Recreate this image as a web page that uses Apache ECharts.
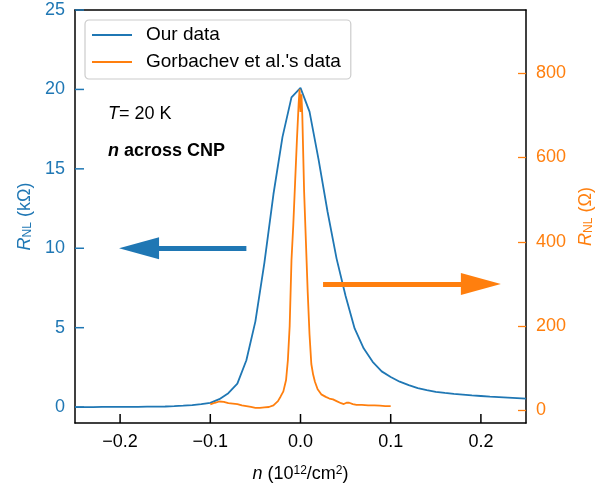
<!DOCTYPE html>
<html>
<head>
<meta charset="utf-8">
<script src="https://cdn.jsdelivr.net/npm/echarts@6/dist/echarts.min.js"></script>
<style>html,body{margin:0;padding:0;background:#fff}#c{width:596px;height:488px}</style>
</head>
<body>
<div id="c"></div>
<script>
// ---- data ----
const ourN = [-0.25,-0.24,-0.23,-0.22,-0.21,-0.20,-0.19,-0.18,-0.17,-0.16,-0.15,-0.14,-0.13,-0.12,-0.11,-0.10,-0.09,-0.08,-0.07,-0.06,-0.05,-0.04,-0.03,-0.02,-0.01,0.00,0.01,0.02,0.03,0.04,0.05,0.06,0.07,0.08,0.09,0.10,0.11,0.12,0.13,0.14,0.15,0.16,0.17,0.18,0.19,0.20,0.21,0.22,0.23,0.24,0.25];
const ourR = [0.00,0.00,0.00,0.01,0.01,0.01,0.02,0.02,0.03,0.03,0.04,0.06,0.09,0.13,0.19,0.27,0.50,0.88,1.48,2.95,5.4,9.1,13.4,17.0,19.5,20.1,18.6,15.6,12.3,9.35,7.0,4.95,3.7,2.85,2.25,1.9,1.6,1.38,1.2,1.07,0.96,0.89,0.83,0.79,0.74,0.70,0.66,0.63,0.60,0.57,0.54];
const gorbN = [-0.100,-0.095,-0.090,-0.085,-0.080,-0.075,-0.070,-0.065,-0.060,-0.055,-0.050,-0.045,-0.040,-0.035,-0.030,-0.025,-0.022,-0.019,-0.016,-0.014,-0.012,-0.010,-0.008,-0.006,-0.004,-0.002,-0.001,0.000,0.001,0.002,0.004,0.006,0.008,0.010,0.012,0.014,0.016,0.019,0.023,0.028,0.032,0.036,0.040,0.045,0.048,0.051,0.054,0.058,0.062,0.068,0.075,0.082,0.088,0.094,0.100];
const gorbR = [14,18,21,20,17,16,15,12,10,8,6,6,7,8,12,22,33,45,72,119,200,356,440,540,640,730,762,708,750,700,520,400,280,180,110,85,68,50,38,32,28,26,22,17,15,18,18,15,13,13,12,12,11,10,10];
// tick labels
const xTicks = [-0.2,-0.1,0.0,0.1,0.2];
const leftTicks = [0,5,10,15,20,25];
const rightTicks = [0,200,400,600,800];
// arrow annotations (data coords): [from x, to x, y]
const blueArrow = [-0.06, -0.179, 10];
const orangeArrow = [0.025, 0.200, 300];

const BLUE = '#1f77b4', ORANGE = '#ff7f0e';
const FONT = 'Liberation Sans';
const X_MIN = -0.25, Y_MIN = -1;

const chart = echarts.init(document.getElementById('c'), null, {renderer:'canvas'});
const fmtX = v => (v < 0 ? '\u2212' : '') + Math.abs(v).toFixed(1);

// inward tick marks drawn through the axes' own scales
function tickSeries(values, horizontal, color) {
  return {
    type: 'custom', name: horizontal ? 'xticks' : 'yticks',
    xAxisIndex: 0, yAxisIndex: 0, silent: true, z: 10, clip: false,
    data: values.map(v => horizontal ? [v, Y_MIN] : [X_MIN, v]),
    renderItem: (params, api) => {
      const p = api.coord([api.value(0), api.value(1)]);
      return {
        type: 'line',
        shape: horizontal ? {x1: p[0], y1: p[1], x2: p[0], y2: p[1] - 9}
                          : {x1: p[0], y1: p[1], x2: p[0] + 9, y2: p[1]},
        style: {stroke: color, lineWidth: 1.5}
      };
    }
  };
}

chart.setOption({
  animation: false,
  textStyle: {fontFamily: FONT},
  grid: {left: 75, right: 70, top: 10, bottom: 65, outerBoundsMode: 'none', containLabel: false, show: false},
  legend: {
    orient: 'vertical', left: 85, top: 20,
    data: ['Our data', "Gorbachev et al.'s data"],
    icon: 'rect',
    itemWidth: 40, itemHeight: 2, itemGap: 7,
    padding: [5, 10, 7, 7],
    backgroundColor: 'rgba(255,255,255,0.85)',
    borderColor: '#cccccc', borderWidth: 1.2, borderRadius: 4,
    textStyle: {fontSize: 19, color: '#000', fontFamily: FONT, padding: [0,0,0,9], lineHeight: 20}
  },
  xAxis: [{
    type: 'value', min: X_MIN, max: 0.25, position: 'bottom',
    name: '{i|n} (10{sup|12}/cm{sup|2})',
    nameLocation: 'middle', nameGap: 42,
    nameTextStyle: {fontSize: 18, color: '#000', fontFamily: FONT,
      rich: {i: {fontStyle: 'italic', fontSize: 18, fontFamily: FONT},
             sup: {fontSize: 12, verticalAlign: 'top', fontFamily: FONT}}},
    axisLine: {show: true, onZero: false, lineStyle: {color: '#000', width: 1.5}},
    splitLine: {show: false},
    axisTick: {show: false},
    axisLabel: {fontSize: 18, color: '#000', margin: 10, customValues: xTicks, formatter: fmtX}
  }, {
    type: 'value', min: X_MIN, max: 0.25, position: 'top',
    axisLine: {show: true, onZero: false, lineStyle: {color: '#000', width: 1.5}},
    axisTick: {show: false}, axisLabel: {show: false}, splitLine: {show: false}
  }],
  yAxis: [{
    type: 'value', min: Y_MIN, max: 25, position: 'left',
    name: '{i|R}{sub|NL} (k\u03A9)',
    nameLocation: 'middle', nameRotate: 90, nameGap: 40,
    nameTextStyle: {fontSize: 18, color: BLUE, fontFamily: FONT,
      rich: {i: {fontStyle: 'italic', fontSize: 18, color: BLUE, fontFamily: FONT},
             sub: {fontSize: 12, verticalAlign: 'bottom', color: BLUE, fontFamily: FONT}}},
    axisLine: {show: true, onZero: false, lineStyle: {color: '#000', width: 1.5}},
    splitLine: {show: false},
    axisTick: {show: false},
    axisLabel: {fontSize: 18, color: BLUE, margin: 10, customValues: leftTicks}
  }, {
    type: 'value', min: -30, max: 950, position: 'right',
    name: '{i|R}{sub|NL} (\u03A9)',
    nameLocation: 'middle', nameRotate: 90, nameGap: 46,
    nameTextStyle: {fontSize: 18, color: ORANGE, fontFamily: FONT,
      rich: {i: {fontStyle: 'italic', fontSize: 18, color: ORANGE, fontFamily: FONT},
             sub: {fontSize: 12, verticalAlign: 'bottom', color: ORANGE, fontFamily: FONT}}},
    axisLine: {show: true, onZero: false, lineStyle: {color: '#000', width: 1.5}},
    splitLine: {show: false},
    axisTick: {show: true, inside: true, length: 8, lineStyle: {color: ORANGE, width: 1.3}, customValues: rightTicks},
    axisLabel: {fontSize: 18, color: ORANGE, margin: 10, customValues: rightTicks}
  }],
  series: [{
    name: 'Our data', type: 'line', yAxisIndex: 0,
    data: ourN.map((n, i) => [n, ourR[i]]),
    symbol: 'none', showSymbol: false,
    lineStyle: {color: BLUE, width: 1.8}, itemStyle: {color: BLUE},
    z: 2,
    markLine: {
      silent: true, symbol: ['none', 'triangle'],
      label: {show: false},
      lineStyle: {color: BLUE, width: 5, type: 'solid'},
      data: [[{coord: [blueArrow[0], blueArrow[2]], symbol: 'none'},
              {coord: [blueArrow[1], blueArrow[2]], symbol: 'triangle', symbolSize: [22, 40]}]]
    }
  }, {
    name: "Gorbachev et al.'s data", type: 'line', yAxisIndex: 1,
    data: gorbN.map((n, i) => [n, gorbR[i]]),
    symbol: 'none', showSymbol: false,
    lineStyle: {color: ORANGE, width: 1.8}, itemStyle: {color: ORANGE},
    z: 3,
    markLine: {
      silent: true, symbol: ['none', 'triangle'],
      label: {show: false},
      lineStyle: {color: ORANGE, width: 5, type: 'solid'},
      data: [[{coord: [orangeArrow[0], orangeArrow[2]], symbol: 'none'},
              {coord: [orangeArrow[1], orangeArrow[2]], symbol: 'triangle', symbolSize: [22, 40]}]]
    }
  },
  tickSeries(xTicks, true, '#000'),
  tickSeries(leftTicks, false, BLUE)],
  graphic: [{
    type: 'text', left: 108, top: 105,
    style: {text: '{i|T}= 20 K', fill: '#000', font: '18px ' + FONT,
      rich: {i: {fontStyle: 'italic', fontSize: 18, fontFamily: FONT}}}
  }, {
    type: 'text', left: 108, top: 142,
    style: {text: '{bi|n} across CNP', fill: '#000', fontSize: 18, fontWeight: 'bold', fontFamily: FONT,
      rich: {bi: {fontStyle: 'italic', fontWeight: 'bold', fontSize: 18, fontFamily: FONT}}}
  }]
});
</script>
</body>
</html>
